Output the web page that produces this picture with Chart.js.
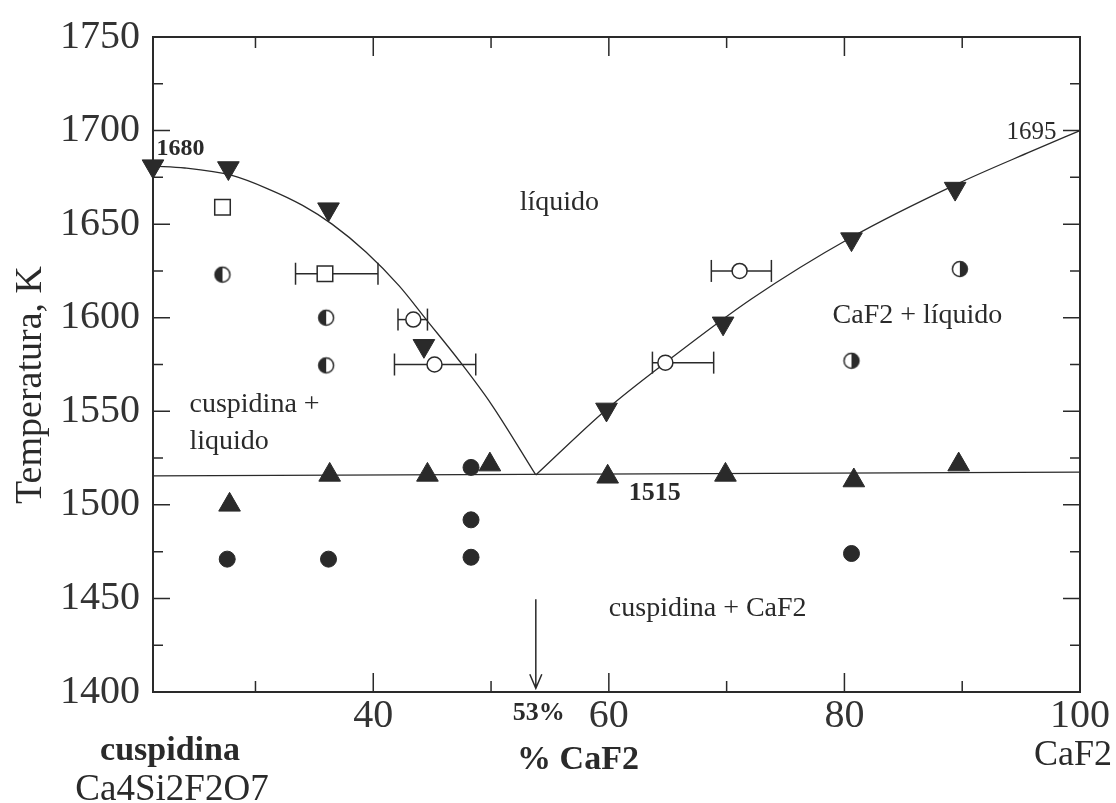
<!DOCTYPE html>
<html>
<head>
<meta charset="utf-8">
<script src="https://cdn.jsdelivr.net/npm/chart.js@4.4.1/dist/chart.umd.min.js"></script>
<style>
  html, body { margin: 0; padding: 0; background: #fff; }
  #wrap { width: 1116px; height: 803px; }
</style>
</head>
<body>
<div id="wrap"><canvas id="myChart" width="1116" height="803"></canvas></div>
<script>
// axis range and tick labels
var xMin = 21.3, xMax = 100;
var xTickValues = [40, 60, 80, 100];
var yMin = 1400, yMax = 1750, yStep = 50;

// liquidus and solidus lines (% CaF2, K)
var liqLeftX  = [21.3, 24, 28, 31, 34, 36.5, 39.4, 42.2, 44.5, 47.3, 50, 53.8];
var liqLeftT  = [1681, 1680, 1676, 1669, 1660, 1650, 1635, 1617, 1599, 1577, 1554, 1516];
var liqRightX = [53.8, 59.8, 64.8, 72.1, 80.6, 89.4, 95.9, 100];
var liqRightT = [1516, 1551, 1576, 1610, 1643, 1671, 1689, 1700];
var solidusX  = [21.3, 100];
var solidusT  = [1515.5, 1517.5];

// measured points
var downTriX = [21.3, 27.7, 36.2, 44.3, 59.8, 69.7, 80.6, 89.4];
var downTriT = [1681, 1680, 1658, 1585, 1551, 1597, 1642, 1669];
var upTriX   = [27.8, 36.3, 44.6, 49.9, 59.9, 69.9, 80.8, 89.7];
var upTriT   = [1500, 1516, 1516, 1521.5, 1515, 1516, 1513, 1521.5];
var dotX     = [27.6, 36.2, 48.3, 48.3, 48.3, 80.6];
var dotT     = [1471, 1471, 1520, 1492, 1472, 1474];
var halfLeftX  = [27.2, 36.0, 36.0];
var halfLeftT  = [1623, 1600, 1574.5];
var halfRightX = [80.6, 89.8];
var halfRightT = [1577, 1626];
var squareX = [27.2, 35.9];
var squareT = [1659, 1623.5];
var ringX   = [43.4, 45.2, 64.8, 71.1];
var ringT   = [1599, 1575, 1576, 1625];
// horizontal error bars: [y, low, high]
var errT    = [1623.5, 1599, 1575, 1576, 1625];
var errLow  = [33.4, 42.1, 41.8, 63.7, 68.7];
var errHigh = [40.4, 44.6, 48.7, 68.9, 73.8];

var eutecticX = 53.8;

function pts(xs, ys) {
  return xs.map(function (x, i) { return { x: x, y: ys[i] }; });
}

function halfDot(side) {
  var c = document.createElement('canvas');
  c.width = 20; c.height = 20;
  var g = c.getContext('2d');
  g.beginPath(); g.arc(10, 10, 7.5, 0, 2 * Math.PI); g.fillStyle = '#fff'; g.fill();
  g.beginPath();
  if (side === 'left') g.arc(10, 10, 7.5, Math.PI / 2, Math.PI * 1.5);
  else g.arc(10, 10, 7.5, -Math.PI / 2, Math.PI / 2);
  g.closePath(); g.fillStyle = '#2a2a2a'; g.fill();
  g.beginPath(); g.arc(10, 10, 7.5, 0, 2 * Math.PI);
  g.lineWidth = 1.5; g.strokeStyle = '#2a2a2a'; g.stroke();
  return c;
}

var ink = '#2a2a2a';
var serif = '"Liberation Serif", "Times New Roman", serif';

var datasets = [
  { type: 'line', data: pts(liqLeftX, liqLeftT), borderColor: ink, borderWidth: 1.3,
    pointRadius: 0, cubicInterpolationMode: 'monotone', order: 10 },
  { type: 'line', data: pts(liqRightX, liqRightT), borderColor: ink, borderWidth: 1.3,
    pointRadius: 0, cubicInterpolationMode: 'monotone', order: 10 },
  { type: 'line', data: pts(solidusX, solidusT), borderColor: ink, borderWidth: 1.3,
    pointRadius: 0, order: 10 }
];

for (var i = 0; i < errT.length; i++) {
  datasets.push({
    type: 'line',
    data: [{ x: errLow[i], y: errT[i] }, { x: errHigh[i], y: errT[i] }],
    borderColor: ink, borderWidth: 1.5,
    pointStyle: 'line', rotation: 90, pointRadius: 11,
    pointBorderColor: ink, pointBorderWidth: 1.5, order: 9
  });
}

datasets.push(
  { data: pts(downTriX, downTriT), pointStyle: 'triangle', rotation: 180, pointRadius: 12.5,
    backgroundColor: ink, borderColor: ink, borderWidth: 1, order: 1 },
  { data: pts(upTriX, upTriT), pointStyle: 'triangle', pointRadius: 12.5,
    backgroundColor: ink, borderColor: ink, borderWidth: 1, order: 1 },
  { data: pts(dotX, dotT), pointStyle: 'circle', pointRadius: 8,
    backgroundColor: ink, borderColor: ink, borderWidth: 1, order: 1 },
  { data: pts(halfLeftX, halfLeftT), pointStyle: halfDot('left'), order: 1 },
  { data: pts(halfRightX, halfRightT), pointStyle: halfDot('right'), order: 1 },
  { data: pts(squareX, squareT), pointStyle: 'rect', pointRadius: 11,
    backgroundColor: '#fff', borderColor: ink, borderWidth: 1.5, order: 1 },
  { data: pts(ringX, ringT), pointStyle: 'circle', pointRadius: 7.5,
    backgroundColor: '#fff', borderColor: ink, borderWidth: 1.5, order: 1 }
);

datasets.forEach(function (d) { d.clip = false; });

// texts inside the plot, in data coordinates
var notes = [
  { t: '1680', x: 21.6, y: 1690.5, font: 'bold 24px ' + serif, align: 'left', base: 'middle' },
  { t: '1695', x: 98.0, y: 1699, font: '25px ' + serif, align: 'right', base: 'middle' },
  { t: 'líquido', x: 55.8, y: 1657.5, font: '28px ' + serif, align: 'center', base: 'alphabetic' },
  { t: 'CaF2 + líquido', x: 86.2, y: 1597, font: '28px ' + serif, align: 'center', base: 'alphabetic' },
  { t: 'cuspidina +', x: 24.4, y: 1549.5, font: '28px ' + serif, align: 'left', base: 'alphabetic' },
  { t: 'liquido', x: 24.4, y: 1530, font: '28px ' + serif, align: 'left', base: 'alphabetic' },
  { t: '1515', x: 61.7, y: 1502.6, font: 'bold 26px ' + serif, align: 'left', base: 'alphabetic' },
  { t: 'cuspidina + CaF2', x: 60.0, y: 1440.5, font: '28px ' + serif, align: 'left', base: 'alphabetic' }
];

var decor = {
  id: 'decor',
  afterDraw: function (chart) {
    var ctx = chart.ctx, a = chart.chartArea;
    var xs = chart.scales.x, ys = chart.scales.y;
    ctx.save();
    ctx.strokeStyle = ink;
    ctx.fillStyle = ink;

    // frame
    ctx.lineWidth = 2;
    ctx.strokeRect(a.left, a.top, a.right - a.left, a.bottom - a.top);

    // inward tick marks
    ctx.lineWidth = 1.5;
    ctx.beginPath();
    for (var v = yMin + 25; v < yMax; v += 25) {
      var py = ys.getPixelForValue(v);
      var len = (v % 50 === 0) ? 17 : 10;
      ctx.moveTo(a.left, py); ctx.lineTo(a.left + len, py);
      ctx.moveTo(a.right, py); ctx.lineTo(a.right - len, py);
    }
    for (var u = 30; u < xMax; u += 10) {
      var px = xs.getPixelForValue(u);
      var l2 = (u % 20 === 0) ? 19 : 11;
      ctx.moveTo(px, a.bottom); ctx.lineTo(px, a.bottom - l2);
      ctx.moveTo(px, a.top); ctx.lineTo(px, a.top + l2);
    }
    ctx.stroke();

    // eutectic arrow
    var ax = xs.getPixelForValue(eutecticX);
    var ay0 = ys.getPixelForValue(1449.5), ay1 = ys.getPixelForValue(1402);
    ctx.beginPath();
    ctx.moveTo(ax, ay0); ctx.lineTo(ax, ay1);
    ctx.moveTo(ax - 6, ay1 - 14); ctx.lineTo(ax, ay1); ctx.lineTo(ax + 6, ay1 - 14);
    ctx.stroke();

    // notes in the plot
    notes.forEach(function (n) {
      ctx.font = n.font;
      ctx.textAlign = n.align;
      ctx.textBaseline = n.base;
      ctx.fillText(n.t, xs.getPixelForValue(n.x), ys.getPixelForValue(n.y));
    });

    // captions below the axis
    ctx.textAlign = 'center';
    ctx.textBaseline = 'alphabetic';
    ctx.font = 'bold 26px ' + serif;
    ctx.fillText('53%', ax + 3, 720);
    ctx.font = 'bold 34px ' + serif;
    ctx.fillText('cuspidina', 170, 760);
    ctx.fillText('% CaF2', 578, 769);
    ctx.font = '37px ' + serif;
    ctx.fillText('Ca4Si2F2O7', 172, 800);
    ctx.font = '36px ' + serif;
    ctx.fillText('CaF2', 1073, 765);

    // y title
    ctx.translate(31, 385);
    ctx.rotate(-Math.PI / 2);
    ctx.textBaseline = 'middle';
    ctx.font = '38px ' + serif;
    ctx.fillText('Temperatura, K', 0, 0);
    ctx.restore();
  }
};

var ctx = document.getElementById('myChart');
var chart = new Chart(ctx, {
  type: 'scatter',
  data: { datasets: datasets },
  options: {
    responsive: false,
    animation: false,
    layout: { padding: { left: 0, top: 27, right: 36, bottom: 0 } },
    plugins: { legend: { display: false }, tooltip: { enabled: false } },
    scales: {
      x: {
        type: 'linear', min: xMin, max: xMax,
        grid: { display: false, drawTicks: false },
        border: { display: false },
        afterBuildTicks: function (s) { s.ticks = xTickValues.map(function (v) { return { value: v }; }); },
        ticks: { font: { family: serif, size: 40 }, color: '#333', padding: 0, maxRotation: 0,
                 callback: function (v) { return String(v); } },
        afterFit: function (s) { s.height = 111; }
      },
      y: {
        min: yMin, max: yMax,
        grid: { display: false, drawTicks: false },
        border: { display: false },
        ticks: { stepSize: yStep, font: { family: serif, size: 40 }, color: '#333', padding: 13,
                 callback: function (v) { return String(v); } },
        afterFit: function (s) { s.width = 153; }
      }
    }
  },
  plugins: [decor]
});
</script>
</body>
</html>
